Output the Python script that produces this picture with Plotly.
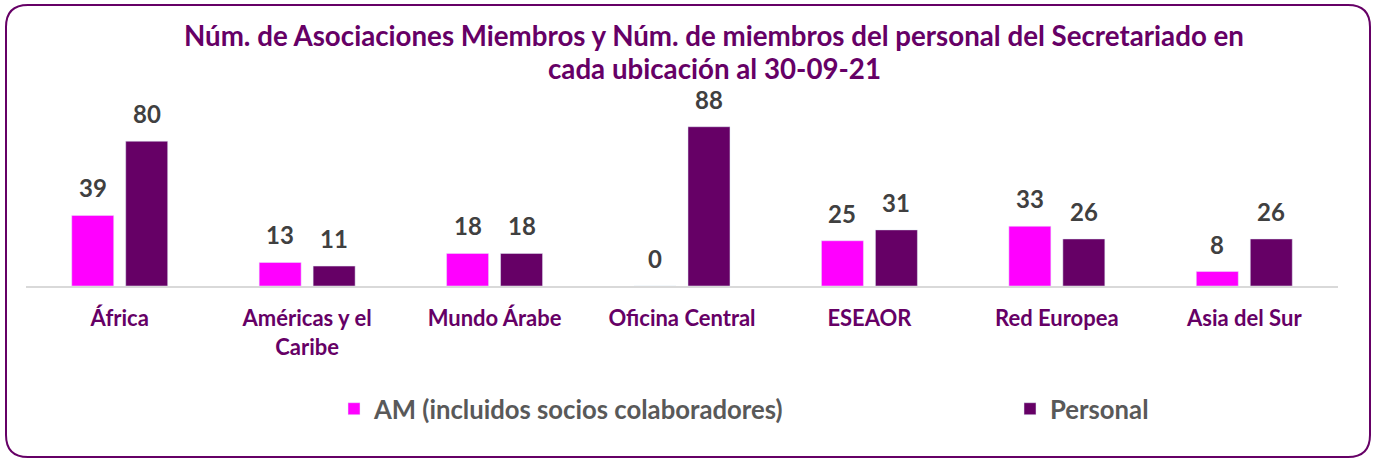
import plotly.graph_objects as go

categories = ["África", "Américas y el<br>Caribe", "Mundo Árabe", "Oficina Central", "ESEAOR", "Red Europea", "Asia del Sur"]
am_values = [39, 13, 18, 0, 25, 33, 8]
personal_values = [80, 11, 18, 88, 31, 26, 26]
series_names = ["AM (incluidos socios colaboradores)", "Personal"]
title_lines = ["Núm. de Asociaciones Miembros y Núm. de miembros del personal del Secretariado en",
               "cada ubicación al 30-09-21"]

W, H = 1376, 461
ML, MR, MT, MB = 26, W - 1338, 105, H - 286
PW, PH = W - ML - MR, H - MT - MB

PURPLE = "#660066"
MAGENTA = "#FF00FF"
FONT = "Lato"
LABEL_FONT = dict(size=24, color="#404040", family=FONT, weight="bold")

fig = go.Figure()
fig.add_trace(go.Bar(x=categories, y=am_values, name=series_names[0], marker_color=MAGENTA,
                     legend="legend", showlegend=True))
fig.add_trace(go.Bar(x=categories, y=personal_values, name=series_names[1], marker_color=PURPLE,
                     legend="legend2", showlegend=True))

# data labels above bars (offset to each bar of the group)
for vals, shift in ((am_values, -27), (personal_values, 27)):
    for c, v in zip(categories, vals):
        fig.add_annotation(x=c, y=v, xref="x", yref="y", text=str(v), showarrow=False,
                           xshift=shift, yanchor="bottom", yshift=12, borderpad=0, font=LABEL_FONT)

def px(x):
    return (x - ML) / PW

def py(y):
    return (H - MB - y) / PH

for line, yc in zip(title_lines, (35, 68)):
    fig.add_annotation(x=px(714), y=py(yc), xref="paper", yref="paper", text=line,
                       showarrow=False, xanchor="center", yanchor="middle", borderpad=0,
                       font=dict(family=FONT, size=27.7, color=PURPLE, weight="bold"))

# rounded border
x0, x1, y0, y1, r = 6, 1370, 5, 457, 22
path = (f"M {px(x0 + r)},{py(y0)} L {px(x1 - r)},{py(y0)} "
        f"Q {px(x1)},{py(y0)} {px(x1)},{py(y0 + r)} "
        f"L {px(x1)},{py(y1 - r)} Q {px(x1)},{py(y1)} {px(x1 - r)},{py(y1)} "
        f"L {px(x0 + r)},{py(y1)} Q {px(x0)},{py(y1)} {px(x0)},{py(y1 - r)} "
        f"L {px(x0)},{py(y0 + r)} Q {px(x0)},{py(y0)} {px(x0 + r)},{py(y0)} Z")

legend_font = dict(family=FONT, size=25.7, color="#595959", weight="bold")

fig.update_layout(
    width=W, height=H, showlegend=True,
    margin=dict(l=ML, r=MR, t=MT, b=MB, autoexpand=False),
    paper_bgcolor="white", plot_bgcolor="white",
    barmode="group", bargap=0.424, bargroupgap=0.222,
    xaxis=dict(showline=True, linecolor="#D9D9D9", linewidth=2, ticks="", showgrid=False,
               tickfont=dict(family=FONT, size=22, color=PURPLE, weight="bold"), ticklabelstandoff=12),
    yaxis=dict(visible=False, range=[0, 100]),
    legend=dict(orientation="h", x=px(334), xanchor="left", y=py(409), yanchor="middle",
                itemwidth=30, font=legend_font, bgcolor="rgba(0,0,0,0)"),
    legend2=dict(orientation="h", x=px(1010), xanchor="left", y=py(409), yanchor="middle",
                 itemwidth=30, font=legend_font, bgcolor="rgba(0,0,0,0)"),
    shapes=[dict(type="path", xref="paper", yref="paper", path=path,
                 line=dict(color=PURPLE, width=2))],
)

fig.write_html("out.html", config={"displayModeBar": False},
               post_script="document.body.style.margin='0';")
